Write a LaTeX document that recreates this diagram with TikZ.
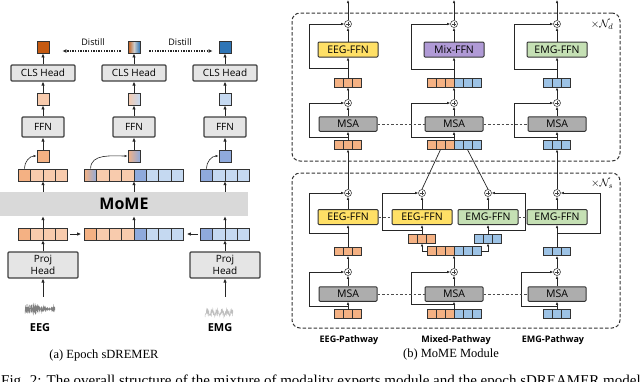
\documentclass[tikz,border=0pt]{standalone}
\usepackage{fontspec}
\setmainfont{Liberation Serif}
\setsansfont{Open Sans}
\usepackage{xcolor}
\usepackage{tikz}
\usetikzlibrary{arrows.meta}

\definecolor{oD}{HTML}{C55A11}
\definecolor{oM}{HTML}{F4B183}
\definecolor{oL}{HTML}{F8CBAD}
\definecolor{bD}{HTML}{2E75B6}
\definecolor{bM}{HTML}{8FAADC}
\definecolor{bL}{HTML}{C5D9F1}
\definecolor{oT}{HTML}{F4B183}
\definecolor{bT}{HTML}{9DC3E6}
\definecolor{yel}{HTML}{FFE066}
\definecolor{pur}{HTML}{B09AD6}
\definecolor{grn}{HTML}{C5E0B4}

\begin{document}
\begin{tikzpicture}[x=1pt,y=-1pt,
    box/.style={draw=black!75,line width=1.1pt,fill=black!10,rounded corners=1pt,inner sep=0,minimum width=64pt,minimum height=16pt,font=\sffamily\fontsize{10}{12}\selectfont},
    sq/.style={draw=black!80,line width=0.9pt,inner sep=0,minimum size=12pt},
    tokcell/.style={draw=black!80,line width=0.8pt,inner sep=0,minimum width=12.4pt,minimum height=12pt},
    tokrow/.style={inner sep=0,minimum height=12pt},
    mome/.style={fill=black!15,inner sep=0,minimum width=248pt,minimum height=24pt,font=\sffamily\bfseries\fontsize{16}{18}\selectfont},
    arr/.style={-{Latex[length=4pt,width=3.5pt]},line width=1pt,black!85},
    carr/.style={-{Latex[length=3pt,width=2.5pt]},line width=0.6pt,black!85},
    distill/.style={-{Latex[length=4pt,width=4pt]},line width=1.3pt,dash pattern=on 1.3pt off 1.3pt,black!85},
    distlbl/.style={font=\sffamily\fontsize{9}{10}\selectfont},
    signode/.style={inner sep=0,minimum width=30pt,minimum height=18pt},
    modlbl/.style={font=\sffamily\bfseries\fontsize{11}{12}\selectfont},
    bcell/.style={draw=black!80,line width=0.7pt,inner sep=0,minimum width=9pt,minimum height=8.5pt},
    brow/.style={inner sep=0,minimum height=8.5pt},
    ffn/.style={draw=black!80,line width=1pt,rounded corners=1pt,inner sep=0,minimum width=60pt,minimum height=15pt,font=\sffamily\fontsize{10.5}{12}\selectfont},
    msa/.style={ffn,fill=black!32,minimum width=58pt,minimum height=14.5pt},
    addc/.style={circle,draw=black!75,line width=0.6pt,fill=white,inner sep=0,minimum size=7pt,
        path picture={\draw[line width=0.5pt] (path picture bounding box.center) ++(-2.2pt,0) -- ++(4.4pt,0)
            (path picture bounding box.center) ++(0,-2.2pt) -- ++(0,4.4pt);}},
    barr/.style={-{Latex[length=3pt,width=2.6pt]},line width=0.7pt,black!85},
    bline/.style={line width=0.7pt,black!85},
    dlink/.style={dash pattern=on 2.5pt off 2pt,line width=0.7pt,black!70},
    dbox/.style={draw=black!80,dash pattern=on 3.5pt off 2pt,line width=1pt,rounded corners=8pt,inner sep=0},
    nlbl/.style={font=\fontsize{11}{12}\selectfont},
    plbl/.style={font=\sffamily\bfseries\fontsize{9}{10}\selectfont},
    subcap/.style={font=\rmfamily\fontsize{12.5}{14}\selectfont}
]
\useasboundingbox (0,0) rectangle (640,381);

%%% (a) Epoch sDREMER
% outputs and distillation
\node[sq,fill=oD] (outL) at (43,47) {};
\node[sq,left color=oD,right color=bD,middle color=black!20] (outM) at (134,47) {};
\node[sq,fill=bD] (outR) at (225,47) {};
\node[distlbl] (dL) at (93,42) {Distill};
\node[distlbl] (dR) at (180,42) {Distill};
\draw[distill] ([xshift=-7pt,yshift=-4pt]outM.west) -- ([xshift=13pt,yshift=-4pt]outL.east);
\draw[distill] ([xshift=9pt,yshift=-4pt]outM.east) -- ([xshift=-6pt,yshift=-4pt]outR.west);
% heads
\node[box] (clsL) at (43,73) {CLS Head};
\node[box] (clsM) at (134,73) {CLS Head};
\node[box] (clsR) at (225,73) {CLS Head};
\node[sq,fill=oL] (hL) at (43,99) {};
\node[sq,left color=oL,right color=bL] (hM) at (134,99) {};
\node[sq,fill=bL] (hR) at (225,99) {};
\node[box,minimum width=42pt,minimum height=20pt] (ffnL) at (43,127) {FFN};
\node[box,minimum width=42pt,minimum height=20pt] (ffnM) at (134,127) {FFN};
\node[box,minimum width=42pt,minimum height=20pt] (ffnR) at (225,127) {FFN};
\node[sq,fill=oM] (cL) at (43,156) {};
\node[sq,left color=oM,right color=bM] (cM) at (134,156) {};
\node[sq,fill=bM] (cR) at (225,156) {};
% token rows after MoME
\node[tokrow,minimum width=49.6pt] (tL) at (43,175) {};
\foreach \c [count=\i] in {oM,oL,oL,oL}
  \node[tokcell,fill=\c] (tL-\i) at ({18.2+(\i-0.5)*12.4},175) {};
\node[tokrow,minimum width=99.2pt] (tM) at (134,175) {};
\node[tokcell,left color=oM,right color=bM] (tM-1) at (90.6,175) {};
\foreach \c [count=\i from 2] in {oL,oL,oL,bM,bL,bL,bL}
  \node[tokcell,fill=\c] (tM-\i) at ({84.4+(\i-0.5)*12.4},175) {};
\node[tokrow,minimum width=49.6pt] (tR) at (225,175) {};
\foreach \c [count=\i] in {bM,bL,bL,bL}
  \node[tokcell,fill=\c] (tR-\i) at ({200.2+(\i-0.5)*12.4},175) {};
% MoME
\node[mome] (mome) at (124,204) {MoME};
% token rows before MoME
\node[tokrow,minimum width=49.6pt] (sL) at (43,234) {};
\foreach \c [count=\i] in {oM,oL,oL,oL}
  \node[tokcell,fill=\c] (sL-\i) at ({18.2+(\i-0.5)*12.4},234) {};
\node[tokrow,minimum width=99.2pt] (sM) at (134,234) {};
\foreach \c [count=\i] in {oM,oL,oL,oL,bM,bL,bL,bL}
  \node[tokcell,fill=\c] (sM-\i) at ({84.4+(\i-0.5)*12.4},234) {};
\node[tokrow,minimum width=49.6pt] (sR) at (225,234) {};
\foreach \c [count=\i] in {bM,bL,bL,bL}
  \node[tokcell,fill=\c] (sR-\i) at ({200.2+(\i-0.5)*12.4},234) {};
% projection heads and inputs
\node[box,minimum width=70pt,minimum height=26pt,align=center] (projL) at (43,265) {Proj\\Head};
\node[box,minimum width=70pt,minimum height=26pt,align=center] (projR) at (225,265) {Proj\\Head};
\node[signode] (eeg) at (40,309) {};
\node[signode] (emg) at (219,309) {};
\draw[black!50,line width=0.5pt] plot[domain=0:30,samples=150]
  ({25+\x},{309+(3.5*sin(\x*487)+2.5*sin(\x*311+20)+1.5*sin(\x*523))*(0.6+0.4*sin(\x*12))});
\draw[black!25,line width=0.5pt] plot[domain=0:28,samples=90]
  ({205+\x},{317-abs(7*sin(\x*401)*sin(\x*37))-2*abs(sin(\x*257))});
\node[modlbl] (eegl) at (40,328) {EEG};
\node[modlbl] (emgl) at (220,328) {EMG};
% arrows
\foreach \s in {L,M,R} {
  \draw[arr] (cls\s.north) -- (out\s.south);
  \draw[arr] (h\s.north) -- (cls\s.south);
  \draw[arr] (ffn\s.north) -- (h\s.south);
  \draw[arr] (c\s.north) -- (ffn\s.south);
  \draw[carr] (t\s-1.north) to[out=90,in=180] (c\s.west);
  \draw[arr] (mome.north -| t\s.south) -- (t\s.south);
  \draw[arr] (s\s.north) -- (mome.south -| s\s.north);
}
\draw[arr,shorten <=2pt,shorten >=3pt] (sL.east) -- (sM.west);
\draw[arr,shorten <=2pt,shorten >=3pt] (sR.west) -- (sM.east);
\draw[arr] (projL.north) -- (sL.south);
\draw[arr] (projR.north) -- (sR.south);
\draw[arr,shorten <=3pt] (projL.south |- eeg.north) -- (projL.south);
\draw[arr,shorten <=3pt] (projR.south |- emg.north) -- (projR.south);
\node[subcap] (capA) at (104,355) {(a) Epoch sDREMER};

%%% (b) MoME Module
\node[dbox,minimum width=328pt,minimum height=148pt] (upbox) at (456,87) {};
\node[dbox,minimum width=328pt,minimum height=155pt] (lowbox) at (456,250.5) {};
\node[nlbl] (nd) at (602,25) {$\times\mathcal{N}_d$};
\node[nlbl] (ns) at (602,184) {$\times\mathcal{N}_s$};

% upper block: shared MSA, pathway FFNs
\node[ffn,fill=yel] (E-uf) at (348,49.5) {EEG-FFN};
\node[ffn,fill=pur] (M-uf) at (454,49.5) {Mix-FFN};
\node[ffn,fill=grn] (G-uf) at (557,49.5) {EMG-FFN};
\foreach \p/\x in {E/348,M/454,G/557} {
  \node[msa] (\p-ua) at (\x,124) {MSA};
  \node[addc] (\p-up1) at (\x,24) {};
  \node[addc] (\p-up2) at (\x,103) {};
  \coordinate (\p-uout) at (\x,0);
}
\foreach \r/\y in {t1/83,t0/145} {
  \node[brow,minimum width=27pt] (E-u\r) at (348,\y) {};
  \foreach \i in {1,2,3} \node[bcell,fill=oT] (E-u\r-\i) at ({348+(\i-2)*9},\y) {};
  \node[brow,minimum width=54pt] (M-u\r) at (454,\y) {};
  \foreach \c [count=\i] in {oT,oT,oT,bT,bT,bT} \node[bcell,fill=\c] (M-u\r-\i) at ({454+(\i-3.5)*9},\y) {};
  \node[brow,minimum width=27pt] (G-u\r) at (557,\y) {};
  \foreach \i in {1,2,3} \node[bcell,fill=bT] (G-u\r-\i) at ({557+(\i-2)*9},\y) {};
}
\foreach \p/\d/\h in {E/34.5/10,M/38.5/9,G/38.5/9} {
  \draw[barr] (\p-ut0.north) -- (\p-ua.south);
  \draw[barr] (\p-ua.north) -- (\p-up2.south);
  \draw[barr] (\p-up2.north) -- (\p-ut1.south);
  \draw[barr] (\p-ut1.north) -- (\p-uf.south);
  \draw[barr] (\p-uf.north) -- (\p-up1.south);
  \draw[barr] (\p-up1.north) -- (\p-uout);
  \draw[barr] ([yshift=\h pt]\p-ut1.north) -| ([xshift=-\d pt]\p-up1.west) -- (\p-up1.west);
  \draw[barr] ([yshift=3pt]\p-ut0.north) -| ([xshift=-\d pt]\p-up2.west) -- (\p-up2.west);
}
\draw[dlink] (E-ua.east) -- (M-ua.west);
\draw[dlink] (M-ua.east) -- (G-ua.west);

% lower block: separate experts
\node[ffn,fill=yel] (E-lf) at (348,217) {EEG-FFN};
\node[ffn,fill=yel] (M-lfa) at (422,217) {EEG-FFN};
\node[ffn,fill=grn] (M-lfb) at (488,217) {EMG-FFN};
\node[ffn,fill=grn] (G-lf) at (557,217) {EMG-FFN};
\node[addc] (E-lp1) at (348,193) {};
\node[addc] (M-lp1a) at (422,193) {};
\node[addc] (M-lp1b) at (488,193) {};
\node[addc] (G-lp1) at (557,193) {};
\foreach \p/\x in {E/348,M/454,G/557} {
  \node[msa] (\p-la) at (\x,294) {MSA};
  \node[addc] (\p-lp2) at (\x,272) {};
}
\foreach \r/\y in {lt1/251.5,lt0/314} {
  \node[brow,minimum width=27pt] (E-\r) at (348,\y) {};
  \foreach \i in {1,2,3} \node[bcell,fill=oT] (E-\r-\i) at ({348+(\i-2)*9},\y) {};
  \node[brow,minimum width=27pt] (G-\r) at (557,\y) {};
  \foreach \i in {1,2,3} \node[bcell,fill=bT] (G-\r-\i) at ({557+(\i-2)*9},\y) {};
}
\foreach \r/\y in {lt1/251,lt0/314} {
  \node[brow,minimum width=54pt] (M-\r) at (454,\y) {};
  \foreach \c [count=\i] in {oT,oT,oT,bT,bT,bT} \node[bcell,fill=\c] (M-\r-\i) at ({454+(\i-3.5)*9},\y) {};
}
\node[brow,minimum width=27pt] (M-lta) at (422,239) {};
\foreach \i in {1,2,3} \node[bcell,fill=oT] (M-lta-\i) at ({422+(\i-2)*9},239) {};
\node[brow,minimum width=27pt] (M-ltb) at (488,239) {};
\foreach \i in {1,2,3} \node[bcell,fill=bT] (M-ltb-\i) at ({488+(\i-2)*9},239) {};
% lower connectors
\foreach \p in {E,G} {
  \draw[barr] (\p-lt0.north) -- (\p-la.south);
  \draw[barr] (\p-la.north) -- (\p-lp2.south);
  \draw[barr] (\p-lp2.north) -- (\p-lt1.south);
  \draw[barr] (\p-lt1.north) -- (\p-lf.south);
  \draw[barr] (\p-lf.north) -- (\p-lp1.south);
}
\draw[barr] (M-lt0.north) -- (M-la.south);
\draw[barr] (M-la.north) -- (M-lp2.south);
\draw[barr] (M-lp2.north) -- (M-lt1.south);
\draw[barr] (M-lt1.west) -| (M-lta.south);
\draw[barr] (M-lt1.east) -| (M-ltb.south);
\draw[barr] (M-lta.north) -- (M-lfa.south);
\draw[barr] (M-ltb.north) -- (M-lfb.south);
\draw[barr] (M-lfa.north) -- (M-lp1a.south);
\draw[barr] (M-lfb.north) -- (M-lp1b.south);
% residual loops
\draw[barr] ([yshift=14pt]E-lt1.north) -| ([xshift=-34.5pt]E-lp1.west) -- (E-lp1.west);
\draw[barr] ([yshift=3pt]E-lt0.north) -| ([xshift=-34.5pt]E-lp2.west) -- (E-lp2.west);
\draw[barr] ([yshift=4pt]M-lta.north) -| ([xshift=-35.5pt]M-lp1a.west) -- (M-lp1a.west);
\draw[barr] ([yshift=4pt]M-ltb.north) -| ([xshift=33.5pt]M-lp1b.east) -- (M-lp1b.east);
\draw[barr] ([yshift=5pt]M-lt0.north) -| ([xshift=-38.5pt]M-lp2.west) -- (M-lp2.west);
\draw[barr] ([yshift=14pt]G-lt1.north) -| ([xshift=39.5pt]G-lp1.east) -- (G-lp1.east);
\draw[barr] ([yshift=3pt]G-lt0.north) -| ([xshift=-31.5pt]G-lp2.west) -- (G-lp2.west);
% expert links
\draw[dlink] (E-lf.east) -- (M-lfa.west);
\draw[dlink] (M-lfb.east) -- (G-lf.west);
\draw[dlink] (E-la.east) -- (M-la.west);
\draw[dlink] (M-la.east) -- (G-la.west);
% lower block to upper block
\draw[barr] (E-lp1.north) -- (E-ut0.south);
\draw[bline] (M-lp1a.north) -- (M-ut0-2.south);
\draw[bline] (M-lp1b.north) -- (M-ut0-5.south);
\draw[barr] (G-lp1.north) -- (G-ut0.south);

\node[plbl] (pE) at (349,340) {EEG-Pathway};
\node[plbl] (pM) at (456,340) {Mixed-Pathway};
\node[plbl] (pG) at (553,340) {EMG-Pathway};
\node[subcap] (capB) at (451,354) {(b) MoME Module};

\node[anchor=north west,inner sep=0,font=\rmfamily\fontsize{15}{17}\selectfont] (figcap) at (1,375)
  {Fig. 2: The overall structure of the mixture of modality experts module and the epoch sDREAMER model};
\end{tikzpicture}
\end{document}
